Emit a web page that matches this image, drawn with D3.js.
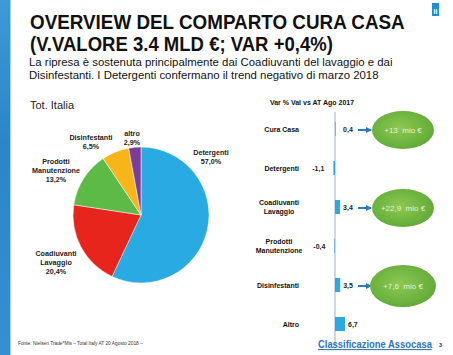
<!DOCTYPE html>
<html><head><meta charset="utf-8">
<script src="https://cdn.jsdelivr.net/npm/d3@7"></script>
<style>
html,body{margin:0;padding:0;background:#fff;}
svg{display:block;font-family:"Liberation Sans",Arial,sans-serif;}
</style></head>
<body>
<div id="chart"></div>
<script>
// ---- data ----
const pieCategories = ["Detergenti", "Coadiuvanti Lavaggio", "Prodotti Manutenzione", "Disinfestanti", "altro"];
const pieShares = [57.0, 20.4, 13.2, 6.5, 2.9];
const pieLabelLines = [["Detergenti", "57,0%"], ["Coadiuvanti", "Lavaggio", "20,4%"], ["Prodotti", "Manutenzione", "13,2%"], ["Disinfestanti", "6,5%"], ["altro", "2,9%"]];
const pieColors = ["#2aaae3", "#e8251d", "#5dba46", "#f7b519", "#7b3c9a"];

const varCategories = ["Cura Casa", "Detergenti", "Coadiuvanti Lavaggio", "Prodotti Manutenzione", "Disinfestanti", "Altro"];
const varLabelLines = [["Cura Casa"], ["Detergenti"], ["Coadiuvanti", "Lavaggio"], ["Prodotti", "Manutenzione"], ["Disinfestanti"], ["Altro"]];
const varValues = [0.4, -1.1, 3.4, -0.4, 3.5, 6.7];
const varValueLabels = ["0,4", "-1,1", "3,4", "-0,4", "3,5", "6,7"];
const calloutCategories = ["Cura Casa", "Coadiuvanti Lavaggio", "Disinfestanti"];
const calloutTexts = ["+13  mio €", "+22,9  mio €", "+7,6  mio €"];

const W = 453, H = 355;
const svg = d3.select("#chart").append("svg").attr("width", W).attr("height", H);
const defs = svg.append("defs");

// horizontally squeeze a text to a target width
function fitText(sel, x0, width) {
  const w = sel.node().getComputedTextLength();
  sel.attr("x", 0).attr("transform", `translate(${x0},0) scale(${width / w},1)`);
}

// left decorative strip
const lg = defs.append("linearGradient").attr("id", "strip").attr("x1", 0).attr("y1", 0).attr("x2", 0).attr("y2", 1);
lg.append("stop").attr("offset", "0%").attr("stop-color", "#3d9ad8");
lg.append("stop").attr("offset", "40%").attr("stop-color", "#2a86c9");
lg.append("stop").attr("offset", "100%").attr("stop-color", "#3590d2");
svg.append("rect").attr("x", 0).attr("y", 0).attr("width", 10).attr("height", H).attr("fill", "url(#strip)");
svg.append("rect").attr("x", 10).attr("y", 0).attr("width", 1).attr("height", H).attr("fill", "#a9cfe9");

// top right logo
svg.append("rect").attr("x", 432).attr("y", 3).attr("width", 7).attr("height", 13).attr("fill", "#1e8fd8");
svg.append("text").attr("x", 435.5).attr("y", 14).attr("text-anchor", "middle").attr("font-size", 7).attr("font-weight", "bold").attr("fill", "#fff").text("ii");

// title
const title = svg.append("g").attr("font-weight", "bold").attr("font-size", 21).attr("fill", "#111");
fitText(title.append("text").attr("y", 29).text("OVERVIEW DEL COMPARTO CURA CASA"), 30, 375);
fitText(title.append("text").attr("y", 51).text("(V.VALORE 3.4 MLD €; VAR +0,4%)"), 30, 303);
const sub = svg.append("text").attr("font-size", 11.4).attr("fill", "#111");
sub.append("tspan").attr("x", 29).attr("y", 66).text("La ripresa è sostenuta principalmente dai Coadiuvanti del lavaggio e  dai");
sub.append("tspan").attr("x", 29).attr("y", 79).text("Disinfestanti. I Detergenti confermano il trend negativo di marzo  2018");

svg.append("text").attr("x", 30).attr("y", 109).attr("font-size", 11).attr("fill", "#222").text("Tot. Italia");

// ---- pie ----
const cx = 141, cy = 215, R = 68;
const pie = d3.pie().sort(null).value(d => d)(pieShares);
const arc = d3.arc().innerRadius(0).outerRadius(R);
const gp = svg.append("g").attr("transform", `translate(${cx},${cy})`);
gp.selectAll("path").data(pie).join("path")
  .attr("d", arc).attr("fill", (d, i) => pieColors[i]).attr("stroke", "#fff").attr("stroke-width", 0.5);

// label anchors placed around the pie (layout)
const pieLabelPos = [[211, 155], [56, 256], [56, 164], [91, 140], [132, 136]];
pieLabelLines.forEach((lines, i) => {
  const t = svg.append("text").attr("font-size", 7.2).attr("font-weight", "bold").attr("fill", "#222").attr("text-anchor", "middle");
  lines.forEach((l, j) => t.append("tspan").attr("x", pieLabelPos[i][0]).attr("y", pieLabelPos[i][1] + j * 8.8).text(l));
});

// ---- variation bars ----
svg.append("text").attr("x", 312).attr("y", 105).attr("text-anchor", "middle").attr("font-size", 7).attr("font-weight", "bold").attr("fill", "#111").text("Var % Val vs AT Ago 2017");

const x = d3.scaleLinear().domain([0, 6.7]).range([335, 345]);
const y = d3.scaleBand().domain(varCategories).range([109.5, 343.5]).paddingInner(0.64).paddingOuter(0.32);
const yc = c => y(c) + y.bandwidth() / 2;

svg.append("line").attr("x1", x(0)).attr("x2", x(0)).attr("y1", 112).attr("y2", 346).attr("stroke", "#8a9aa8").attr("stroke-width", 0.8);

svg.append("g").selectAll("rect").data(varValues).join("rect")
  .attr("x", d => Math.min(x(0), x(d)))
  .attr("width", d => Math.abs(x(d) - x(0)))
  .attr("y", (d, i) => y(varCategories[i]))
  .attr("height", y.bandwidth())
  .attr("fill", "#2aaae3");

varValues.forEach((v, i) => {
  const c = varCategories[i];
  svg.append("text")
    .attr("x", v >= 0 ? x(Math.max(v, 3.4)) + 3 : x(v) - 9)
    .attr("y", yc(c) + 2.5)
    .attr("text-anchor", v >= 0 ? "start" : "end")
    .attr("font-size", 7).attr("font-weight", "bold").attr("fill", "#222")
    .text(varValueLabels[i]);
  const lines = varLabelLines[i];
  const t = svg.append("text").attr("font-size", 7).attr("font-weight", "bold").attr("fill", "#111")
    .attr("text-anchor", lines.length > 1 ? "middle" : "end");
  lines.forEach((l, j) => t.append("tspan")
    .attr("x", lines.length > 1 ? 279 : 299)
    .attr("y", yc(c) + 2.5 + (j - (lines.length - 1) / 2) * 8.5).text(l));
});

// callouts
const rg = defs.append("radialGradient").attr("id", "ell").attr("cx", "45%").attr("cy", "45%").attr("r", "60%");
rg.append("stop").attr("offset", "0%").attr("stop-color", "#8dc852");
rg.append("stop").attr("offset", "70%").attr("stop-color", "#6db33f");
rg.append("stop").attr("offset", "100%").attr("stop-color", "#5ea836");
defs.append("marker").attr("id", "arr").attr("viewBox", "0 0 6 6").attr("refX", 5).attr("refY", 3)
  .attr("markerWidth", 3).attr("markerHeight", 3).attr("orient", "auto")
  .append("path").attr("d", "M0,0L6,3L0,6Z").attr("fill", "#2e78c0");

calloutCategories.forEach((c, i) => {
  const yy = yc(c);
  svg.append("line").attr("x1", 358).attr("x2", 371).attr("y1", yy + 1).attr("y2", yy + 1)
    .attr("stroke", "#2e78c0").attr("stroke-width", 2).attr("marker-end", "url(#arr)");
  svg.append("ellipse").attr("cx", 403).attr("cy", yy + 1).attr("rx", i === 2 ? 33 : 31).attr("ry", i === 2 ? 21 : 19).attr("fill", "url(#ell)");
  svg.append("text").attr("x", 403).attr("y", yy + 4).attr("text-anchor", "middle")
    .attr("font-size", 8).attr("fill", "#e3f3d2").style("white-space", "pre").text(calloutTexts[i]);
});

// footer
svg.append("text").attr("x", 18).attr("y", 345).attr("font-size", 4.8).attr("fill", "#333")
  .text("Fonte: Nielsen Trade*Mis – Total Italy AT 20 Agosto 2018 –");
const link = svg.append("text").attr("y", 348).attr("font-size", 10.6).attr("font-weight", "bold")
  .attr("fill", "#2f73b8").attr("text-decoration", "underline").text("Classificazione Assocasa");
fitText(link, 318, 114);
svg.append("text").attr("x", 439).attr("y", 347).attr("font-size", 5.5).attr("font-weight", "bold").attr("fill", "#333").text("3");
</script>
</body></html>
